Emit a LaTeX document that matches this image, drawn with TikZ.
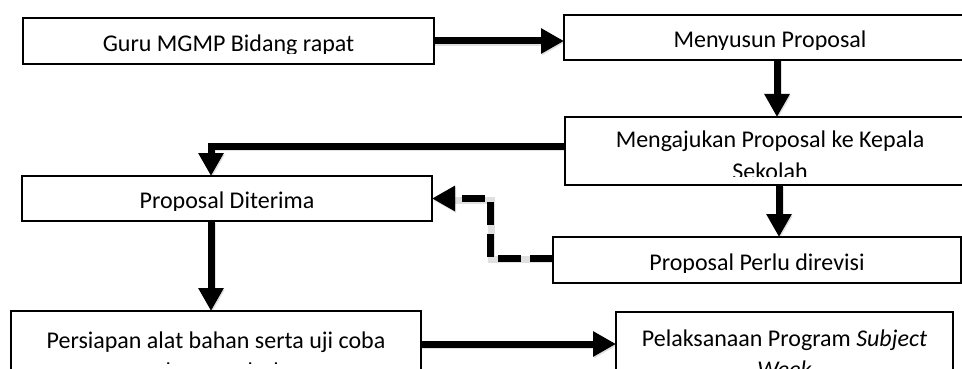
\documentclass[tikz,border=0pt]{standalone}
\usepackage{fontspec}
\setmainfont{Carlito}
\usetikzlibrary{arrows.meta,calc}

\tikzset{
  box/.style={draw=black, line width=1.5pt, rectangle, inner sep=0pt, outer sep=0pt, fill=white},
  txt/.style={anchor=base, inner sep=0pt, outer sep=0pt, font=\fontsize{24}{29}\selectfont},
  flow/.style={line width=7pt, -{Triangle[length=23pt,width=24pt]},
    preaction={draw=black, opacity=0.12, line width=7pt,
      transform canvas={shift={(1pt,-1.5pt)}}}},
  revise/.style={flow, dash pattern=on 23pt off 9pt},
}

\begin{document}
\begin{tikzpicture}[x=1pt,y=-1pt]
\useasboundingbox (0,0) rectangle (962,369);
\clip (0,0) rectangle (962,369);

% process boxes
\node[box, minimum width=411pt, minimum height=46pt] (b1) at (228.5,41) {};
\node[box, minimum width=416pt, minimum height=45pt] (b2) at (772,37.5) {};
\node[box, minimum width=415pt, minimum height=68pt] (b3) at (772.5,151) {};
\node[box, minimum width=410pt, minimum height=45pt] (b4) at (227,198.5) {};
\node[box, minimum width=408pt, minimum height=46pt, line width=1.2pt] (b5) at (757,260) {};
\node[box, minimum width=410pt, minimum height=89pt] (b6) at (216,355.5) {};
\node[box, minimum width=337pt, minimum height=88pt] (b7) at (784.5,356) {};

% box texts, cut off at the lower text margin
\begin{scope}
  \clip (23,18) rectangle (434,53.5);
  \node[txt] (t1) at (228.5,52) {Guru MGMP Bidang rapat};
\end{scope}
\begin{scope}
  \clip (564,15) rectangle (962,49.5);
  \node[txt] (t2) at (770,48) {Menyusun Proposal};
\end{scope}
\begin{scope}
  \clip (565,117) rectangle (962,176);
  \node[txt] (t3a) at (770,147) {Mengajukan Proposal ke Kepala};
  \node[txt] (t3b) at (770,179) {Sekolah};
\end{scope}
\begin{scope}
  \clip (22,176) rectangle (432,210);
  \node[txt] (t4) at (227,208) {Proposal Diterima};
\end{scope}
\begin{scope}
  \clip (553,237) rectangle (961,272);
  \node[txt] (t5) at (757,270) {Proposal Perlu direvisi};
\end{scope}
\begin{scope}
  \clip (11,311) rectangle (421,363.5);
  \node[txt] (t6a) at (216,348) {Persiapan alat bahan serta uji coba};
  \node[txt] (t6b) at (216,379) {percobaan sederhana};
\end{scope}
\begin{scope}
  \clip (616,312) rectangle (953,369);
  \node[txt] (t7a) at (784.5,346) {Pelaksanaan Program \textit{Subject}};
  \node[txt] (t7b) at (784.5,377) {\textit{Week}};
\end{scope}

% connectors
\coordinate (rv) at (490,230);
\draw[flow] (b1.east) -- (b1.east -| b2.west);
\draw[flow] ([xshift=5pt]b2.south) -- ([xshift=5pt]b2.south |- b3.north);
\draw[flow] ([yshift=5pt]b3.west) -| ([xshift=-16pt]b4.north);
\draw[flow] ([xshift=6.5pt]b3.south) -- ([xshift=6.5pt]b3.south |- b5.north);
\draw[revise] ([yshift=2pt]b5.west) -- ([yshift=2pt]b5.west -| rv) -- (rv |- b4.east) -- (b4.east);
\draw[flow] ([xshift=-16pt]b4.south) -- ([xshift=-16pt]b4.south |- b6.north);
\draw[flow] ([yshift=11.5pt]b6.east) -- ([yshift=11.5pt]b6.east -| b7.west);
\end{tikzpicture}
\end{document}
